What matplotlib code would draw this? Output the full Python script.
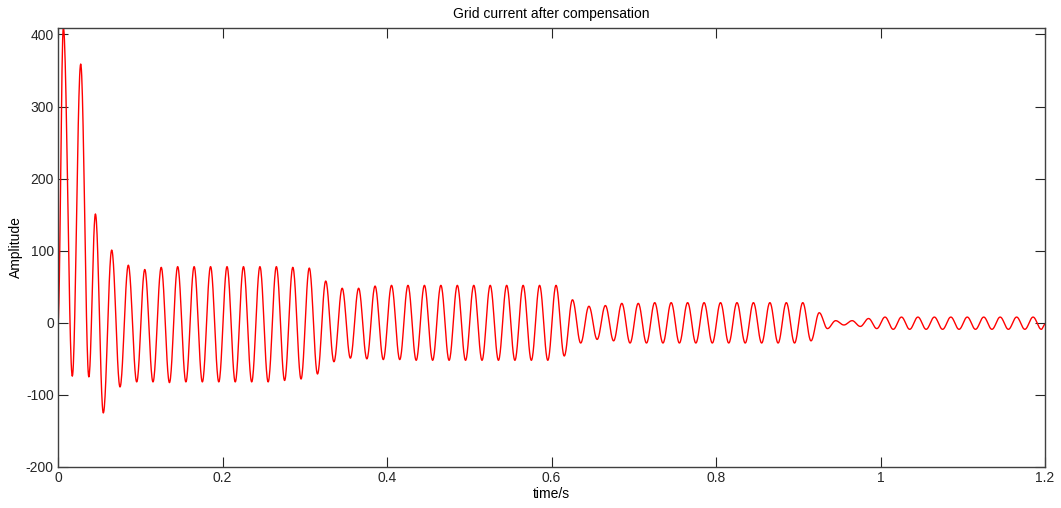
import numpy as np
import matplotlib
matplotlib.use("Agg")
import matplotlib.pyplot as plt

plt.rcParams['font.family'] = ['Liberation Sans', 'DejaVu Sans']
plt.rcParams['axes.unicode_minus'] = False

# start-up transient: extrema (time s, amplitude)
transient_t = [0.0, 0.0065, 0.0174, 0.0276, 0.0375, 0.0455, 0.0551, 0.0653, 0.0754, 0.0855, 0.0957]
transient_v = [0, 410, -74, 359, -75, 151, -125, 101, -89, 80, -82]

# after that the grid current is a 50 Hz wave: one peak then one trough per cycle
first_peak = 0.1055
period = 0.02
peak_vals = [74, 77, 78, 78, 78, 78, 78, 78, 78, 77, 76,
             58, 48, 48, 51, 52, 52, 52, 52, 52, 52, 52, 52, 52, 52, 52,
             32, 23, 24, 27, 27, 28, 28, 28, 28, 28, 28, 28, 28, 28, 28,
             14, 3, 3, 6, 8, 8, 8, 8, 8, 8, 8, 8, 8, 8]
trough_vals = [-82, -83, -82, -82, -82, -82, -82, -82, -80, -78, -71,
               -54, -49, -50, -51, -51, -52, -52, -52, -52, -52, -52, -52, -52, -52, -46,
               -28, -23, -25, -28, -28, -28, -28, -28, -28, -28, -28, -28, -28, -28, -25,
               -8, -3, -5, -8, -9, -9, -9, -9, -9, -9, -9, -9, -9, -9]
end_t, end_v = 1.2, -2

ext_t = list(transient_t)
ext_v = list(transient_v)
for k, (p, q) in enumerate(zip(peak_vals, trough_vals)):
    ext_t += [first_peak + k * period, first_peak + k * period + period / 2]
    ext_v += [p, q]
ext_t.append(end_t)
ext_v.append(end_v)

# join neighbouring extrema with half-cosine arcs
t_all, v_all = [], []
for i in range(len(ext_t) - 1):
    s = np.linspace(0, 1, 24, endpoint=False)
    t_all.append(ext_t[i] + (ext_t[i + 1] - ext_t[i]) * s)
    v_all.append(ext_v[i] + (ext_v[i + 1] - ext_v[i]) * (1 - np.cos(np.pi * s)) / 2)
t_all.append([end_t])
v_all.append([end_v])
t_all = np.concatenate(t_all)
v_all = np.concatenate(v_all)

fig = plt.figure(figsize=(10.61, 5.08), dpi=100)
ax = fig.add_axes([58 / 1061, 41 / 508, 987 / 1061, 439 / 508])
ax.plot(t_all, v_all, color='red', lw=1.0)

ax.set_xlim(0, 1.2)
ax.set_ylim(-200, 409)
ax.set_xticks([0, 0.2, 0.4, 0.6, 0.8, 1.0, 1.2])
ax.set_xticklabels(['0', '0.2', '0.4', '0.6', '0.8', '1', '1.2'])
ax.set_yticks([-200, -100, 0, 100, 200, 300, 400])
ax.tick_params(direction='in', length=7, width=0.8, top=True, right=True,
               labelsize=10, pad=3, colors='#262626')
for sp in ax.spines.values():
    sp.set_color('#404040')
    sp.set_linewidth(1.0)

ax.set_title('Grid current after compensation', fontsize=10, pad=7)
ax.set_xlabel('time/s', fontsize=10, labelpad=1)
ax.set_ylabel('Amplitude', fontsize=10, labelpad=2)

fig.savefig('out.png', dpi=100)
